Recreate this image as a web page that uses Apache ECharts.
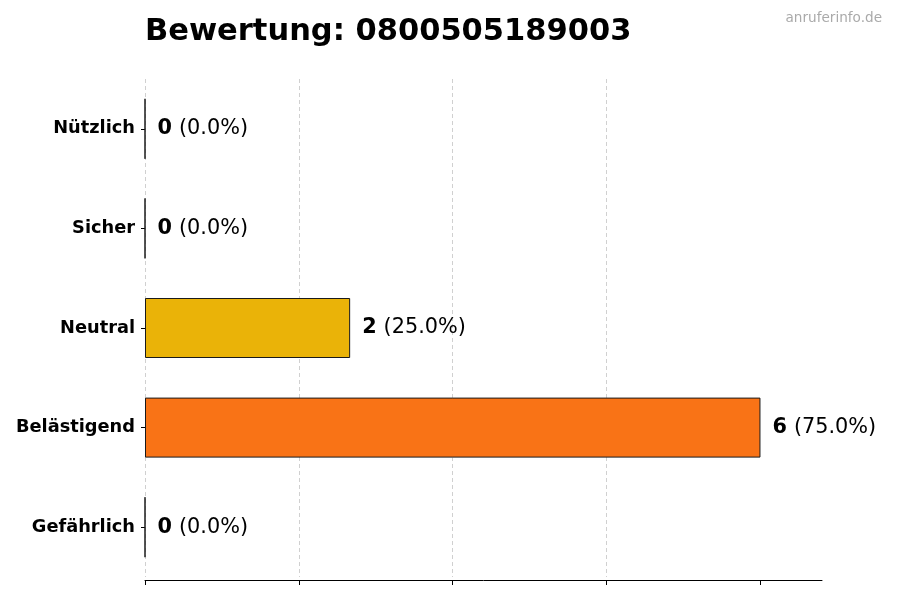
<!DOCTYPE html>
<html>
<head>
<meta charset="utf-8">
<script src="https://cdn.jsdelivr.net/npm/echarts@6/dist/echarts.min.js"></script>
<style>html,body{margin:0;padding:0;background:#fff}#c{width:900px;height:600px}</style>
</head>
<body>
<div id="c"></div>
<script>
const titleText = 'Bewertung: 0800505189003';
const watermark = 'anruferinfo.de';
const categories = ['Nützlich', 'Sicher', 'Neutral', 'Belästigend', 'Gefährlich'];
const counts = [0, 0, 2, 6, 0];
const barColors = ['#22c55e', '#3b82f6', '#eab308', '#f97316', '#ef4444'];
const xTicks = [0, 1.5, 3, 4.5, 6];
const xMax = 6.6;

const total = counts.reduce((a, b) => a + b, 0);
const font = 'DejaVu Sans';

const chart = echarts.init(document.getElementById('c'));
chart.setOption({
  animation: false,
  backgroundColor: '#fff',
  title: {
    text: titleText,
    left: 140, top: 12,
    textStyle: { fontFamily: font, fontSize: 30.5, fontWeight: 'bold', color: '#000' }
  },
  graphic: [{
    type: 'text', right: 18, top: 11,
    style: { text: watermark, fontFamily: font, fontSize: 13.6, fill: '#aaaaaa' }
  }],
  grid: { left: 145, right: 78, top: 79, bottom: 23 },
  xAxis: {
    type: 'value', min: 0, max: xMax, interval: 1.5, offset: 3,
    axisLine: { show: true, lineStyle: { color: '#000', width: 1 } },
    axisTick: { show: true, length: 5, customValues: xTicks, lineStyle: { color: '#000' } },
    axisLabel: { show: false },
    splitLine: { show: true, showMaxLine: false, lineStyle: { type: [4, 3], color: '#d0d0d0', width: 1 } }
  },
  yAxis: {
    type: 'category', data: categories, inverse: true,
    axisLine: { show: false },
    axisTick: { show: true, alignWithLabel: true, length: 4, lineStyle: { color: '#000' } },
    axisLabel: { margin: 10, fontFamily: font, fontSize: 17.8, fontWeight: 'bold', color: '#000' },
    splitLine: { show: false }
  },
  series: [{
    type: 'bar',
    barWidth: 60,
    data: counts.map((v, i) => ({ value: v, itemStyle: { color: barColors[i] } })),
    itemStyle: { borderColor: '#1a1a1a', borderWidth: 1 },
    label: {
      show: true, position: 'right', distance: 12,
      formatter: p => '{b|' + p.value + '}{n|(' + (total ? (p.value / total * 100) : 0).toFixed(1) + '%)}',
      rich: {
        b: { fontFamily: font, fontSize: 20.8, fontWeight: 'bold', color: '#000' },
        n: { fontFamily: font, fontSize: 20.8, color: '#000', padding: [0, 0, 0, 7] }
      }
    }
  }]
});
</script>
</body>
</html>
